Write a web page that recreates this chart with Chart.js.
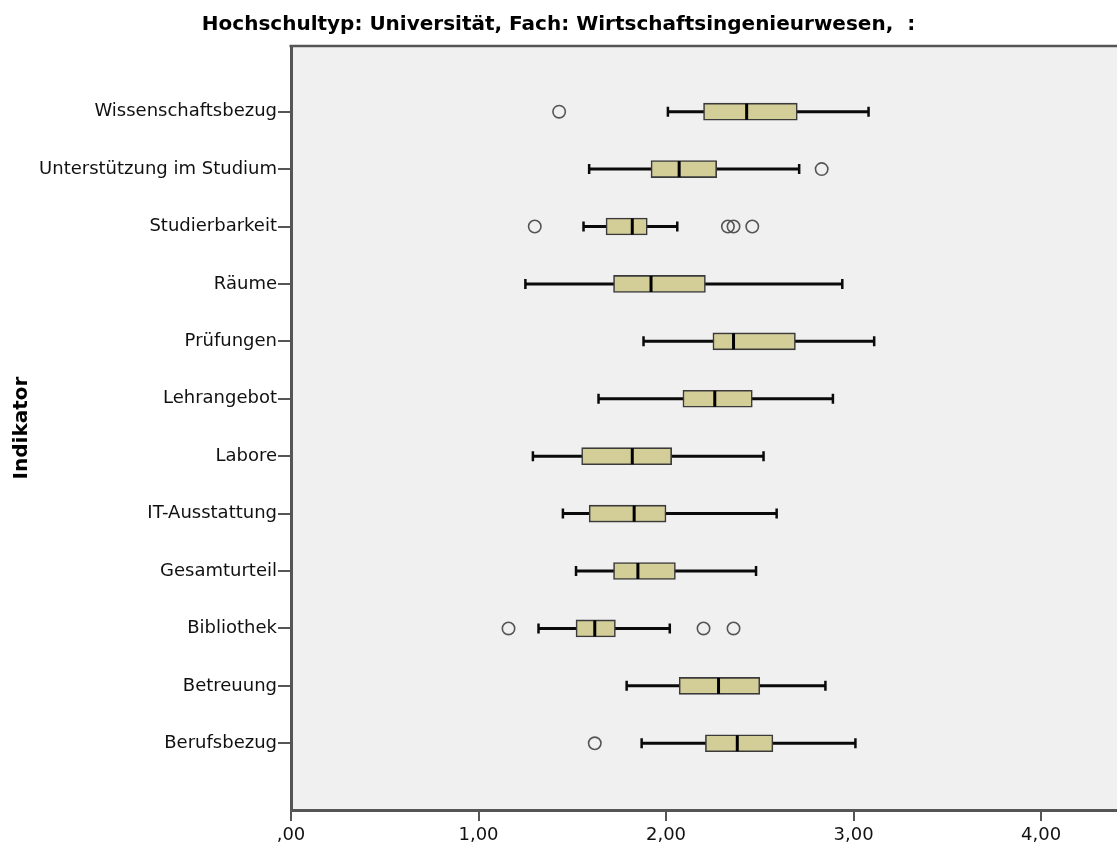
<!DOCTYPE html>
<html>
<head>
<meta charset="utf-8">
<script src="https://cdn.jsdelivr.net/npm/chart.js@4/dist/chart.umd.min.js"></script>
<style>
html,body{margin:0;padding:0;background:#fff;overflow:hidden}
#wrap{width:1117px;height:849px;position:relative}
</style>
</head>
<body>
<div id="wrap"><canvas id="c"></canvas></div>
<script>
// ---- data ----
const titleText = 'Hochschultyp: Universität, Fach: Wirtschaftsingenieurwesen,  :';
const axisTitle = 'Indikator';
const categories = ['Wissenschaftsbezug','Unterstützung im Studium','Studierbarkeit','Räume','Prüfungen','Lehrangebot','Labore','IT-Ausstattung','Gesamturteil','Bibliothek','Betreuung','Berufsbezug'];
const whiskerLow  = [2.01, 1.59, 1.56, 1.25, 1.88, 1.64, 1.29, 1.45, 1.52, 1.32, 1.79, 1.87];
const q1          = [2.20, 1.92, 1.68, 1.72, 2.25, 2.09, 1.55, 1.59, 1.72, 1.52, 2.07, 2.21];
const median      = [2.43, 2.07, 1.82, 1.92, 2.36, 2.26, 1.82, 1.83, 1.85, 1.62, 2.28, 2.38];
const q3          = [2.70, 2.27, 1.90, 2.21, 2.69, 2.46, 2.03, 2.00, 2.05, 1.73, 2.50, 2.57];
const whiskerHigh = [3.08, 2.71, 2.06, 2.94, 3.11, 2.89, 2.52, 2.59, 2.48, 2.02, 2.85, 3.01];
const outliers    = [[1.43], [2.83], [1.30, 2.33, 2.36, 2.46], [], [], [], [], [], [], [1.16, 2.20, 2.36], [], [1.62]];
const xTickValues = [0, 1, 2, 3, 4];
const xTickLabels = [',00', '1,00', '2,00', '3,00', '4,00'];

// ---- chart ----
Chart.defaults.font.family = "'DejaVu Sans', sans-serif";
Chart.defaults.font.size = 18;
Chart.defaults.color = '#111';

const boxData = categories.map((c, i) => ({ x: [q1[i], q3[i]], y: i }));
const outlierData = [];
outliers.forEach((list, i) => list.forEach(v => outlierData.push({ x: v, y: i })));

const boxPlugin = {
  id: 'boxLines',
  beforeDraw(chart) {
    const { ctx, chartArea: a } = chart;
    ctx.save();
    ctx.fillStyle = '#F0F0F0';
    ctx.fillRect(a.left, a.top, a.right - a.left, a.bottom - a.top);
    ctx.restore();
  },
  beforeDatasetsDraw(chart) {
    const { ctx } = chart;
    const xs = chart.scales.x, ys = chart.scales.y;
    ctx.save();
    ctx.strokeStyle = '#0a0a0a';
    categories.forEach((c, i) => {
      const y = ys.getPixelForValue(i);
      const x0 = xs.getPixelForValue(whiskerLow[i]);
      const x1 = xs.getPixelForValue(whiskerHigh[i]);
      ctx.lineWidth = 3;
      ctx.beginPath();
      ctx.moveTo(x0, y); ctx.lineTo(x1, y);
      ctx.stroke();
      ctx.lineWidth = 2.5;
      ctx.beginPath();
      ctx.moveTo(x0, y - 5); ctx.lineTo(x0, y + 5);
      ctx.moveTo(x1, y - 5); ctx.lineTo(x1, y + 5);
      ctx.stroke();
    });
    ctx.restore();
  },
  afterDatasetsDraw(chart) {
    const { ctx } = chart;
    const xs = chart.scales.x, ys = chart.scales.y;
    ctx.save();
    ctx.strokeStyle = '#000';
    ctx.lineWidth = 3;
    categories.forEach((c, i) => {
      const y = ys.getPixelForValue(i);
      const xm = xs.getPixelForValue(median[i]);
      ctx.beginPath();
      ctx.moveTo(xm, y - 8); ctx.lineTo(xm, y + 8);
      ctx.stroke();
    });
    ctx.restore();
  },
  afterDraw(chart) {
    const { ctx, chartArea: a } = chart;
    ctx.save();
    ctx.strokeStyle = '#555';
    ctx.lineWidth = 2.5;
    ctx.beginPath();
    ctx.moveTo(a.left - 1.5, a.top);
    ctx.lineTo(a.right, a.top);
    ctx.stroke();
    ctx.restore();
  }
};

new Chart(document.getElementById('c'), {
  type: 'bar',
  data: {
    datasets: [
      {
        type: 'scatter',
        data: outlierData,
        pointStyle: 'circle',
        pointRadius: 6.2,
        pointBorderWidth: 1.6,
        pointBorderColor: '#555',
        pointBackgroundColor: 'rgba(0,0,0,0)',
        showLine: false
      },
      {
        type: 'bar',
        data: boxData,
        backgroundColor: '#D3CD97',
        borderColor: '#3a3a3a',
        borderWidth: 1.6,
        borderSkipped: false,
        barThickness: 17,
        grouped: false
      }
    ]
  },
  options: {
    indexAxis: 'y',
    responsive: true,
    maintainAspectRatio: false,
    animation: false,
    events: [],
    layout: { autoPadding: false, padding: { left: 0, right: 0, top: 0, bottom: 0 } },
    plugins: {
      legend: { display: false },
      tooltip: { enabled: false },
      title: {
        display: true,
        text: titleText,
        color: '#000',
        font: { size: 20, weight: 'bold' },
        padding: { top: 13, bottom: 9 }
      }
    },
    scales: {
      x: {
        type: 'linear',
        position: 'bottom',
        min: 0,
        max: 4.405,
        offset: false,
        afterBuildTicks(scale) { scale.ticks = xTickValues.map(v => ({ value: v })); },
        afterFit(scale) { scale.height = 39; scale.paddingLeft = 0; scale.paddingRight = 0; },
        ticks: {
          autoSkip: false,
          maxRotation: 0,
          padding: 4,
          color: '#111',
          callback: (v) => xTickLabels[xTickValues.indexOf(v)]
        },
        grid: { display: true, drawOnChartArea: false, drawTicks: true, tickLength: 11, color: '#555', lineWidth: 2, offset: false },
        border: { display: true, color: '#555', width: 3 }
      },
      y: {
        type: 'linear',
        position: 'left',
        reverse: true,
        min: -1.144,
        max: 12.162,
        offset: false,
        afterBuildTicks(scale) { scale.ticks = categories.map((c, i) => ({ value: i })); },
        afterFit(scale) { scale.width = 291; scale.paddingTop = 0; scale.paddingBottom = 0; },
        ticks: {
          autoSkip: false,
          padding: 1,
          color: '#111',
          callback: (v) => categories[v]
        },
        grid: { display: true, drawOnChartArea: false, drawTicks: true, tickLength: 13, color: '#555', lineWidth: 2, offset: false },
        border: { display: true, color: '#555', width: 3 },
        title: {
          display: true,
          text: axisTitle,
          color: '#000',
          font: { size: 20, weight: 'bold' },
          padding: { top: 10, bottom: 0 }
        }
      }
    }
  },
  plugins: [boxPlugin]
});
</script>
</body>
</html>
